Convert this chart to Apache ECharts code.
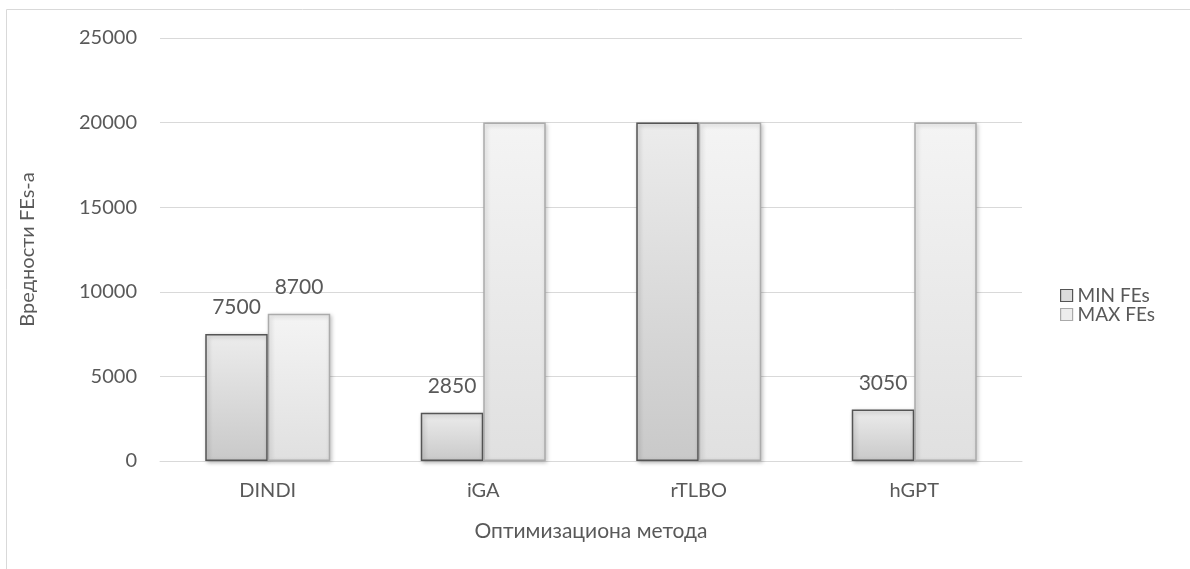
<!DOCTYPE html>
<html>
<head>
<meta charset="utf-8">
<script src="https://cdn.jsdelivr.net/npm/echarts@6/dist/echarts.min.js"></script>
<style>
  html, body { margin: 0; padding: 0; background: #fff; }
  #chart { width: 1190px; height: 569px; }
</style>
</head>
<body>
<div id="chart"></div>
<script>
// Methods and their function-evaluation counts
const categories = ['DINDI', 'iGA', 'rTLBO', 'hGPT'];
const minFEs = [7500, 2850, 20000, 3050];
const maxFEs = [8700, 20000, 20000, 20000];
const yTicks = [0, 5000, 10000, 15000, 20000, 25000];

const FONT = 'Lato, "Open Sans", sans-serif';
const TEXT = '#595959';
const FS = 20;

const chart = echarts.init(document.getElementById('chart'), null, { renderer: 'canvas' });

function grad(top, bottom) {
  return new echarts.graphic.LinearGradient(0, 0, 0, 1, [
    { offset: 0, color: top },
    { offset: 1, color: bottom }
  ]);
}

// Values at the cap of the axis are left unlabeled
const labelFmt = p => (p.value >= 20000 ? '' : String(p.value));

chart.setOption({
  animation: false,
  graphic: [{
    type: 'rect',
    shape: { x: 6.5, y: 9.5, width: 1200, height: 600 },
    style: { fill: null, stroke: '#d9d9d9', lineWidth: 1 },
    silent: true
  }],
  grid: { left: 160, right: 168, top: 38, bottom: 108 },
  legend: {
    orient: 'vertical',
    left: 1055,
    top: 281,
    icon: 'rect',
    itemWidth: 12,
    itemHeight: 12,
    itemGap: 0,
    itemTextGap: 4,
    textStyle: { color: TEXT, fontSize: FS - 1, fontFamily: FONT },
    data: [
      { name: 'MIN FEs', itemStyle: { color: '#dcdcdc', borderColor: '#555', borderWidth: 1.2 } },
      { name: 'MAX FEs', itemStyle: { color: '#ededed', borderColor: '#aaa', borderWidth: 1.2 } }
    ]
  },
  xAxis: {
    type: 'category',
    data: categories,
    name: 'Оптимизациона метода',
    nameLocation: 'middle',
    nameGap: 60,
    nameTextStyle: { color: TEXT, fontSize: FS + 1, fontFamily: FONT },
    axisLine: { lineStyle: { color: '#d9d9d9', width: 1 } },
    axisTick: { show: false },
    axisLabel: { color: TEXT, fontSize: FS, fontFamily: FONT, margin: 20 }
  },
  yAxis: {
    type: 'value',
    min: yTicks[0],
    max: yTicks[yTicks.length - 1],
    interval: yTicks[1] - yTicks[0],
    name: 'Вредности FEs-a',
    nameLocation: 'middle',
    nameGap: 122,
    nameTextStyle: { color: TEXT, fontSize: FS, fontFamily: FONT },
    axisLine: { show: false },
    axisTick: { show: false },
    axisLabel: { color: TEXT, fontSize: FS, fontFamily: FONT, margin: 23, formatter: v => String(v) },
    splitLine: { lineStyle: { color: '#d9d9d9', width: 1 } }
  },
  series: [
    {
      name: 'MIN FEs',
      type: 'bar',
      data: minFEs,
      barGap: '0%',
      barCategoryGap: '42%',
      itemStyle: {
        color: grad('#ececec', '#c9c9c9'),
        borderColor: '#555',
        borderWidth: 1.5,
        shadowColor: 'rgba(0,0,0,0.28)',
        shadowBlur: 4,
        shadowOffsetX: 1.5,
        shadowOffsetY: 1.5
      },
      label: {
        show: true,
        position: 'top',
        distance: 16,
        formatter: labelFmt,
        color: TEXT,
        fontSize: FS + 1,
        fontFamily: FONT
      }
    },
    {
      name: 'MAX FEs',
      type: 'bar',
      data: maxFEs,
      itemStyle: {
        color: grad('#f4f4f4', '#e0e0e0'),
        borderColor: '#ababab',
        borderWidth: 1.5,
        shadowColor: 'rgba(0,0,0,0.22)',
        shadowBlur: 4,
        shadowOffsetX: 1.5,
        shadowOffsetY: 1.5
      },
      label: {
        show: true,
        position: 'top',
        distance: 16,
        formatter: labelFmt,
        color: TEXT,
        fontSize: FS + 1,
        fontFamily: FONT
      }
    }
  ]
});
</script>
</body>
</html>
